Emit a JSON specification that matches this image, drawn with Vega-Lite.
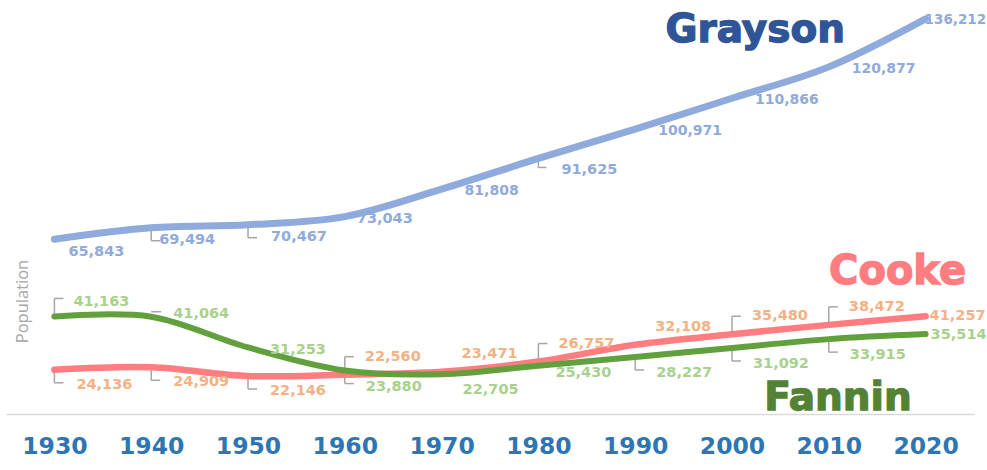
{
  "$schema": "https://vega.github.io/schema/vega-lite/v6.json",
  "width": 968,
  "height": 407,
  "autosize": {"type": "none"},
  "padding": {"left": 6, "top": 7, "right": 13, "bottom": 56},
  "background": "white",
  "config": {"view": {"stroke": null}},
  "datasets": {
    "pop": [
      {"county": "Grayson", "year": 1930, "pop": 65843},
      {"county": "Grayson", "year": 1940, "pop": 69494},
      {"county": "Grayson", "year": 1950, "pop": 70467},
      {"county": "Grayson", "year": 1960, "pop": 73043},
      {"county": "Grayson", "year": 1970, "pop": 81808},
      {"county": "Grayson", "year": 1980, "pop": 91625},
      {"county": "Grayson", "year": 1990, "pop": 100971},
      {"county": "Grayson", "year": 2000, "pop": 110866},
      {"county": "Grayson", "year": 2010, "pop": 120877},
      {"county": "Grayson", "year": 2020, "pop": 136212},
      {"county": "Cooke", "year": 1930, "pop": 24136},
      {"county": "Cooke", "year": 1940, "pop": 24909},
      {"county": "Cooke", "year": 1950, "pop": 22146},
      {"county": "Cooke", "year": 1960, "pop": 22560},
      {"county": "Cooke", "year": 1970, "pop": 23471},
      {"county": "Cooke", "year": 1980, "pop": 26757},
      {"county": "Cooke", "year": 1990, "pop": 32108},
      {"county": "Cooke", "year": 2000, "pop": 35480},
      {"county": "Cooke", "year": 2010, "pop": 38472},
      {"county": "Cooke", "year": 2020, "pop": 41257},
      {"county": "Fannin", "year": 1930, "pop": 41163},
      {"county": "Fannin", "year": 1940, "pop": 41064},
      {"county": "Fannin", "year": 1950, "pop": 31253},
      {"county": "Fannin", "year": 1960, "pop": 23880},
      {"county": "Fannin", "year": 1970, "pop": 22705},
      {"county": "Fannin", "year": 1980, "pop": 25430},
      {"county": "Fannin", "year": 1990, "pop": 28227},
      {"county": "Fannin", "year": 2000, "pop": 31092},
      {"county": "Fannin", "year": 2010, "pop": 33915},
      {"county": "Fannin", "year": 2020, "pop": 35514}
    ],
    "names": [
      {"county": "Grayson"},
      {"county": "Cooke"},
      {"county": "Fannin"}
    ]
  },
  "data": {"name": "pop"},
  "layer": [
    {
      "transform": [{"filter": "indexof(['Grayson1940','Grayson1950','Cooke1930','Cooke1940','Cooke1950','Fannin1960','Fannin1990','Fannin2000','Fannin2010'], datum.county + datum.year) >= 0"}],
      "mark": {"type": "rule", "color": "#a6a6a6", "strokeWidth": 1.5, "yOffset": 2, "y2Offset": 13},
      "encoding": {"x": {"field": "year", "type": "quantitative"}, "y": {"field": "pop", "type": "quantitative"}, "y2": {"field": "pop"}}
    },
    {
      "transform": [{"filter": "indexof(['Grayson1940','Grayson1950','Cooke1930','Cooke1940','Cooke1950','Fannin1960','Fannin1990','Fannin2000','Fannin2010'], datum.county + datum.year) >= 0"}],
      "mark": {"type": "rule", "color": "#a6a6a6", "strokeWidth": 1.5, "yOffset": 13, "x2Offset": 9},
      "encoding": {"x": {"field": "year", "type": "quantitative"}, "x2": {"field": "year"}, "y": {"field": "pop", "type": "quantitative"}}
    },
    {
      "transform": [{"filter": "datum.county + datum.year === 'Grayson1980'"}],
      "mark": {"type": "rule", "color": "#a6a6a6", "strokeWidth": 1.5, "yOffset": 3, "y2Offset": 9},
      "encoding": {"x": {"field": "year", "type": "quantitative"}, "y": {"field": "pop", "type": "quantitative"}, "y2": {"field": "pop"}}
    },
    {
      "transform": [{"filter": "datum.county + datum.year === 'Grayson1980'"}],
      "mark": {"type": "rule", "color": "#a6a6a6", "strokeWidth": 1.5, "yOffset": 9, "x2Offset": 8},
      "encoding": {"x": {"field": "year", "type": "quantitative"}, "x2": {"field": "year"}, "y": {"field": "pop", "type": "quantitative"}}
    },
    {
      "transform": [{"filter": "indexof(['Cooke1960','Cooke1980','Cooke2000','Cooke2010','Fannin1930'], datum.county + datum.year) >= 0"}],
      "mark": {"type": "rule", "color": "#a6a6a6", "strokeWidth": 1.5, "yOffset": -2, "y2Offset": -18},
      "encoding": {"x": {"field": "year", "type": "quantitative"}, "y": {"field": "pop", "type": "quantitative"}, "y2": {"field": "pop"}}
    },
    {
      "transform": [{"filter": "indexof(['Cooke1960','Cooke1980','Cooke2000','Cooke2010','Fannin1930'], datum.county + datum.year) >= 0"}],
      "mark": {"type": "rule", "color": "#a6a6a6", "strokeWidth": 1.5, "yOffset": -18, "x2Offset": 9},
      "encoding": {"x": {"field": "year", "type": "quantitative"}, "x2": {"field": "year"}, "y": {"field": "pop", "type": "quantitative"}}
    },
    {
      "transform": [{"filter": "datum.county + datum.year === 'Fannin1940'"}],
      "mark": {"type": "rule", "color": "#a6a6a6", "strokeWidth": 1.5, "yOffset": -5, "x2Offset": 10},
      "encoding": {"x": {"field": "year", "type": "quantitative"}, "x2": {"field": "year"}, "y": {"field": "pop", "type": "quantitative"}}
    },
    {
      "mark": {"type": "line", "interpolate": "cardinal", "strokeCap": "round"},
      "encoding": {
        "x": {"field": "year", "type": "quantitative",
          "scale": {"domain": [1925, 2025], "nice": false, "zero": false},
          "axis": {"title": null, "values": [1930,1940,1950,1960,1970,1980,1990,2000,2010,2020], "format": "d",
            "labelFont": "DejaVu Sans", "labelFontWeight": "bold", "labelFontSize": 23.5, "labelColor": "#2e75b6",
            "labelBaseline": "alphabetic", "labelPadding": 39, "ticks": false, "tickSize": 0, "grid": false,
            "domainColor": "#d9d9d9", "domainWidth": 1.5, "labelFlush": false, "labelOverlap": false}},
        "y": {"field": "pop", "type": "quantitative",
          "scale": {"domain": [10000, 140000], "nice": false, "zero": false},
          "axis": {"title": "Population", "labels": false, "ticks": false, "domain": false, "grid": false,
            "titleColor": "#a6a6a6", "titleFont": "Open Sans", "titleFontWeight": "normal", "titleFontSize": 16.5,
            "titleAngle": -90, "titleX": 16, "titleY": 294, "titleAlign": "center", "titleBaseline": "middle"}},
        "color": {"field": "county", "type": "nominal", "legend": null,
          "scale": {"domain": ["Grayson", "Cooke", "Fannin"], "range": ["#8faadc", "#ff7c80", "#62a03e"]}},
        "strokeWidth": {"field": "county", "type": "nominal", "legend": null,
          "scale": {"domain": ["Grayson", "Cooke", "Fannin"], "range": [7, 6, 8]}},
        "order": {"field": "year"}
      }
    },
    {
      "transform": [{"filter": "datum.county === 'Grayson' && datum.year === 1930"}],
      "mark": {"type": "text", "align": "left", "baseline": "middle", "dx": 14, "dy": 13, "font": "DejaVu Sans", "fontWeight": "bold", "fontSize": 14.5, "color": "#8faadc"},
      "encoding": {"x": {"field": "year", "type": "quantitative"}, "y": {"field": "pop", "type": "quantitative"}, "text": {"field": "pop", "type": "quantitative", "format": ","}}
    },
    {
      "transform": [{"filter": "datum.county === 'Grayson' && datum.year === 1940"}],
      "mark": {"type": "text", "align": "left", "baseline": "middle", "dx": 8, "dy": 12, "font": "DejaVu Sans", "fontWeight": "bold", "fontSize": 14.5, "color": "#8faadc"},
      "encoding": {"x": {"field": "year", "type": "quantitative"}, "y": {"field": "pop", "type": "quantitative"}, "text": {"field": "pop", "type": "quantitative", "format": ","}}
    },
    {
      "transform": [{"filter": "datum.county === 'Grayson' && (datum.year === 1950 || datum.year === 1980)"}],
      "mark": {"type": "text", "align": "left", "baseline": "middle", "dx": 23, "dy": 12, "font": "DejaVu Sans", "fontWeight": "bold", "fontSize": 14.5, "color": "#8faadc"},
      "encoding": {"x": {"field": "year", "type": "quantitative"}, "y": {"field": "pop", "type": "quantitative"}, "text": {"field": "pop", "type": "quantitative", "format": ","}}
    },
    {
      "transform": [{"filter": "datum.county === 'Grayson' && datum.year === 1960"}],
      "mark": {"type": "text", "align": "left", "baseline": "middle", "dx": 12, "dy": 2, "font": "DejaVu Sans", "fontWeight": "bold", "fontSize": 14.5, "color": "#8faadc"},
      "encoding": {"x": {"field": "year", "type": "quantitative"}, "y": {"field": "pop", "type": "quantitative"}, "text": {"field": "pop", "type": "quantitative", "format": ","}}
    },
    {
      "transform": [{"filter": "datum.county === 'Grayson' && indexof([1970,1990,2000,2010], datum.year) >= 0"}],
      "mark": {"type": "text", "align": "left", "baseline": "middle", "dx": 23, "dy": 2, "font": "DejaVu Sans", "fontWeight": "bold", "fontSize": 14, "color": "#8faadc"},
      "encoding": {"x": {"field": "year", "type": "quantitative"}, "y": {"field": "pop", "type": "quantitative"}, "text": {"field": "pop", "type": "quantitative", "format": ","}}
    },
    {
      "transform": [{"filter": "datum.county === 'Grayson' && datum.year === 2020"}],
      "mark": {"type": "text", "align": "left", "baseline": "middle", "dx": -1, "dy": 1, "font": "DejaVu Sans", "fontWeight": "bold", "fontSize": 13.5, "color": "#8faadc"},
      "encoding": {"x": {"field": "year", "type": "quantitative"}, "y": {"field": "pop", "type": "quantitative"}, "text": {"field": "pop", "type": "quantitative", "format": ","}}
    },
    {
      "transform": [{"filter": "datum.county === 'Cooke' && datum.year <= 1950"}],
      "mark": {"type": "text", "align": "left", "baseline": "middle", "dx": 22, "dy": 15, "font": "DejaVu Sans", "fontWeight": "bold", "fontSize": 14.5, "color": "#f4b183"},
      "encoding": {"x": {"field": "year", "type": "quantitative"}, "y": {"field": "pop", "type": "quantitative"}, "text": {"field": "pop", "type": "quantitative", "format": ","}}
    },
    {
      "transform": [{"filter": "datum.county === 'Cooke' && datum.year >= 1960 && datum.year <= 2010"}],
      "mark": {"type": "text", "align": "left", "baseline": "middle", "dx": 20, "dy": -18, "font": "DejaVu Sans", "fontWeight": "bold", "fontSize": 14.5, "color": "#f4b183"},
      "encoding": {"x": {"field": "year", "type": "quantitative"}, "y": {"field": "pop", "type": "quantitative"}, "text": {"field": "pop", "type": "quantitative", "format": ","}}
    },
    {
      "transform": [{"filter": "datum.county === 'Cooke' && datum.year === 2020"}],
      "mark": {"type": "text", "align": "left", "baseline": "middle", "dx": 4, "dy": 0, "font": "DejaVu Sans", "fontWeight": "bold", "fontSize": 14.5, "color": "#f4b183"},
      "encoding": {"x": {"field": "year", "type": "quantitative"}, "y": {"field": "pop", "type": "quantitative"}, "text": {"field": "pop", "type": "quantitative", "format": ","}}
    },
    {
      "transform": [{"filter": "datum.county === 'Fannin' && datum.year === 1930"}],
      "mark": {"type": "text", "align": "left", "baseline": "middle", "dx": 19, "dy": -14, "font": "DejaVu Sans", "fontWeight": "bold", "fontSize": 14.5, "color": "#a9d18e"},
      "encoding": {"x": {"field": "year", "type": "quantitative"}, "y": {"field": "pop", "type": "quantitative"}, "text": {"field": "pop", "type": "quantitative", "format": ","}}
    },
    {
      "transform": [{"filter": "datum.county === 'Fannin' && datum.year === 1940"}],
      "mark": {"type": "text", "align": "left", "baseline": "middle", "dx": 22, "dy": -3, "font": "DejaVu Sans", "fontWeight": "bold", "fontSize": 14.5, "color": "#a9d18e"},
      "encoding": {"x": {"field": "year", "type": "quantitative"}, "y": {"field": "pop", "type": "quantitative"}, "text": {"field": "pop", "type": "quantitative", "format": ","}}
    },
    {
      "transform": [{"filter": "datum.county === 'Fannin' && datum.year === 1950"}],
      "mark": {"type": "text", "align": "left", "baseline": "middle", "dx": 22, "dy": 3, "font": "DejaVu Sans", "fontWeight": "bold", "fontSize": 14.5, "color": "#a9d18e"},
      "encoding": {"x": {"field": "year", "type": "quantitative"}, "y": {"field": "pop", "type": "quantitative"}, "text": {"field": "pop", "type": "quantitative", "format": ","}}
    },
    {
      "transform": [{"filter": "datum.county === 'Fannin' && indexof([1960,1970,1990,2000,2010], datum.year) >= 0"}],
      "mark": {"type": "text", "align": "left", "baseline": "middle", "dx": 21, "dy": 16, "font": "DejaVu Sans", "fontWeight": "bold", "fontSize": 14.5, "color": "#a9d18e"},
      "encoding": {"x": {"field": "year", "type": "quantitative"}, "y": {"field": "pop", "type": "quantitative"}, "text": {"field": "pop", "type": "quantitative", "format": ","}}
    },
    {
      "transform": [{"filter": "datum.county === 'Fannin' && datum.year === 1980"}],
      "mark": {"type": "text", "align": "left", "baseline": "middle", "dx": 17, "dy": 7, "font": "DejaVu Sans", "fontWeight": "bold", "fontSize": 14.5, "color": "#a9d18e"},
      "encoding": {"x": {"field": "year", "type": "quantitative"}, "y": {"field": "pop", "type": "quantitative"}, "text": {"field": "pop", "type": "quantitative", "format": ","}}
    },
    {
      "transform": [{"filter": "datum.county === 'Fannin' && datum.year === 2020"}],
      "mark": {"type": "text", "align": "left", "baseline": "middle", "dx": 5, "dy": 1, "font": "DejaVu Sans", "fontWeight": "bold", "fontSize": 14.5, "color": "#a9d18e"},
      "encoding": {"x": {"field": "year", "type": "quantitative"}, "y": {"field": "pop", "type": "quantitative"}, "text": {"field": "pop", "type": "quantitative", "format": ","}}
    },
    {
      "data": {"name": "names"},
      "transform": [{"filter": "datum.county === 'Grayson'"}],
      "mark": {"type": "text", "align": "center", "baseline": "alphabetic", "font": "DejaVu Sans", "fontWeight": "bold", "fontSize": 39, "color": "#2f5597", "stroke": "#2f5597", "strokeWidth": 1.3},
      "encoding": {"x": {"datum": 2002.4, "type": "quantitative"}, "y": {"datum": 128800, "type": "quantitative"}, "text": {"field": "county", "type": "nominal"}}
    },
    {
      "data": {"name": "names"},
      "transform": [{"filter": "datum.county === 'Cooke'"}],
      "mark": {"type": "text", "align": "center", "baseline": "alphabetic", "font": "DejaVu Sans", "fontWeight": "bold", "fontSize": 40, "color": "#ff7c80", "stroke": "#ff7c80", "strokeWidth": 1.3},
      "encoding": {"x": {"datum": 2017.1, "type": "quantitative"}, "y": {"datum": 51500, "type": "quantitative"}, "text": {"field": "county", "type": "nominal"}}
    },
    {
      "data": {"name": "names"},
      "transform": [{"filter": "datum.county === 'Fannin'"}],
      "mark": {"type": "text", "align": "center", "baseline": "alphabetic", "font": "DejaVu Sans", "fontWeight": "bold", "fontSize": 39, "color": "#548235", "stroke": "#548235", "strokeWidth": 1.3},
      "encoding": {"x": {"datum": 2010.95, "type": "quantitative"}, "y": {"datum": 11300, "type": "quantitative"}, "text": {"field": "county", "type": "nominal"}}
    }
  ]
}
